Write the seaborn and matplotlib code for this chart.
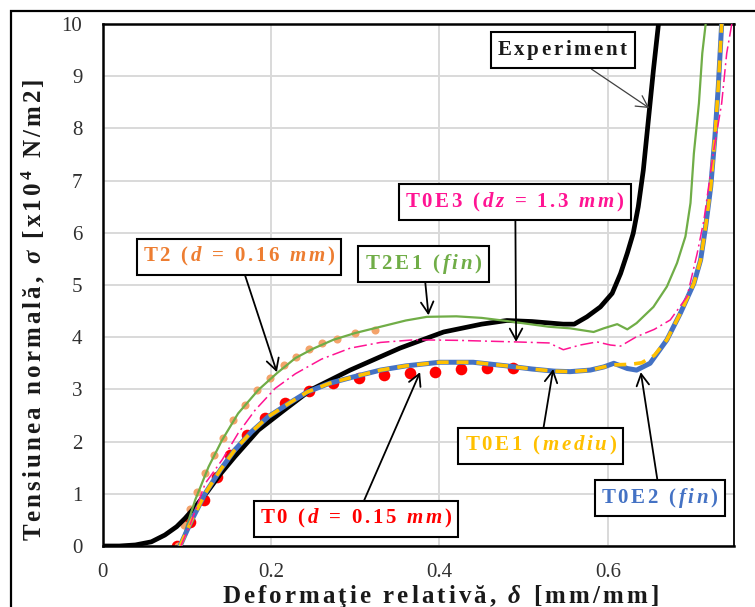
import matplotlib
matplotlib.use("Agg")
import matplotlib.pyplot as plt
import seaborn as sns
from matplotlib.patches import Rectangle

# ---------------- data: strain (mm/mm) vs normal stress (x10^4 N/m2) ----------------
exp_x = [0.0, 0.02, 0.039, 0.058, 0.074, 0.088, 0.098, 0.11, 0.125, 0.14, 0.157, 0.185,
         0.213, 0.247, 0.294, 0.353, 0.405, 0.45, 0.48, 0.51, 0.547, 0.56, 0.575, 0.591,
         0.605, 0.615, 0.623, 0.63, 0.636, 0.642, 0.648, 0.654, 0.66]
exp_y = [0.0, 0.0, 0.02, 0.08, 0.21, 0.37, 0.53, 0.75, 1.05, 1.38, 1.71, 2.22,
         2.57, 2.99, 3.37, 3.79, 4.1, 4.25, 4.32, 4.3, 4.25, 4.25, 4.39, 4.58,
         4.84, 5.22, 5.61, 5.99, 6.5, 7.2, 8.16, 9.12, 10.0]

t2_x = [0.09, 0.097, 0.104, 0.112, 0.122, 0.132, 0.143, 0.155, 0.169, 0.183, 0.199,
        0.215, 0.23, 0.245, 0.26, 0.278, 0.30, 0.324]
t2_y = [0.0, 0.4, 0.7, 1.04, 1.39, 1.74, 2.06, 2.41, 2.7, 2.99, 3.22,
        3.47, 3.62, 3.77, 3.89, 3.97, 4.08, 4.13]

t2e1_x = [0.093, 0.1, 0.11, 0.126, 0.142, 0.161, 0.185, 0.207, 0.229, 0.25, 0.274,
          0.30, 0.33, 0.36, 0.385, 0.42, 0.45, 0.48, 0.53, 0.555, 0.583, 0.595, 0.611,
          0.623, 0.634, 0.654, 0.67, 0.682, 0.692, 0.698, 0.702, 0.708, 0.712, 0.716]
t2e1_y = [0.0, 0.38, 0.88, 1.52, 2.03, 2.54, 2.99, 3.31, 3.6, 3.78, 3.95,
          4.08, 4.2, 4.32, 4.39, 4.4, 4.37, 4.31, 4.2, 4.17, 4.1, 4.17, 4.25,
          4.15, 4.27, 4.58, 4.97, 5.42, 5.93, 6.57, 7.52, 8.48, 9.44, 10.0]

t0e3_x = [0.093, 0.105, 0.122, 0.142, 0.161, 0.181, 0.205, 0.229, 0.26, 0.294, 0.33,
          0.37, 0.42, 0.49, 0.53, 0.547, 0.567, 0.587, 0.603, 0.615, 0.634, 0.655,
          0.674, 0.694, 0.706, 0.714, 0.725, 0.735, 0.741, 0.747]
t0e3_y = [0.0, 0.45, 1.2, 1.65, 2.16, 2.6, 3.02, 3.3, 3.58, 3.79, 3.9,
          3.95, 3.94, 3.91, 3.89, 3.76, 3.85, 3.91, 3.85, 3.83, 4.01, 4.15,
          4.33, 4.78, 5.61, 6.25, 7.52, 8.48, 9.44, 10.0]

t0_x = [0.088, 0.104, 0.12, 0.136, 0.151, 0.171, 0.193, 0.217, 0.245, 0.274, 0.304,
        0.334, 0.365, 0.395, 0.426, 0.457, 0.487]
t0_y = [0.0, 0.46, 0.88, 1.32, 1.74, 2.13, 2.45, 2.74, 2.97, 3.12, 3.22,
        3.28, 3.32, 3.34, 3.39, 3.41, 3.41]

t0e2_x = [0.092, 0.106, 0.122, 0.14, 0.157, 0.177, 0.197, 0.221, 0.243, 0.27, 0.298,
          0.33, 0.36, 0.40, 0.44, 0.48, 0.51, 0.536, 0.555, 0.579, 0.595, 0.607,
          0.623, 0.634, 0.65, 0.67, 0.686, 0.702, 0.71, 0.716, 0.722, 0.727, 0.731,
          0.735]
t0e2_y = [0.0, 0.5, 1.01, 1.46, 1.84, 2.19, 2.48, 2.73, 2.95, 3.12, 3.24,
          3.37, 3.45, 3.52, 3.52, 3.45, 3.39, 3.35, 3.34, 3.37, 3.43, 3.5,
          3.4, 3.37, 3.5, 3.95, 4.46, 5.03, 5.48, 6.12, 6.88, 7.84, 8.8,
          10.0]

t0e1_x = [0.092, 0.106, 0.122, 0.14, 0.157, 0.177, 0.197, 0.221, 0.243, 0.27, 0.298,
          0.33, 0.36, 0.40, 0.44, 0.48, 0.51, 0.536, 0.555, 0.579, 0.595, 0.607,
          0.627, 0.64, 0.655, 0.67, 0.686, 0.702, 0.71, 0.716, 0.722, 0.727, 0.731,
          0.735]
t0e1_y = [0.0, 0.5, 1.01, 1.46, 1.84, 2.19, 2.48, 2.73, 2.95, 3.12, 3.24,
          3.37, 3.45, 3.52, 3.52, 3.45, 3.39, 3.35, 3.34, 3.37, 3.43, 3.47,
          3.48, 3.51, 3.65, 3.95, 4.46, 5.03, 5.48, 6.12, 6.88, 7.84, 8.8,
          10.0]

x_ticks = [0.0, 0.2, 0.4, 0.6]
x_tick_labels = ["0", "0.2", "0.4", "0.6"]
y_ticks = list(range(0, 11))

# ---------------- colours ----------------
C_EXP = "#000000"
C_T2_DOT = "#F4A36B"
C_T2_TXT = "#ED7D31"
C_T2E1 = "#70AD47"
C_T0E3 = "#FF1493"
C_T0 = "#FF0000"
C_T0E1 = "#FFC000"
C_T0E2 = "#4472C4"

# ---------------- style ----------------
sns.set_theme(style="white")
plt.rcParams["font.family"] = ["Liberation Serif", "DejaVu Sans"]
plt.rcParams["mathtext.fontset"] = "custom"
plt.rcParams["mathtext.rm"] = "Liberation Serif"
plt.rcParams["mathtext.it"] = "Liberation Serif:italic"
plt.rcParams["mathtext.bf"] = "Liberation Serif:bold"
plt.rcParams["mathtext.bfit"] = "Liberation Serif:italic:bold"


def tracked(parts, gap=0.2):
    """Build a string with even letter spacing; parts are ('t', plain), ('i', bold italic)
    or ('m', raw mathtext) pieces."""
    items = []
    for kind, txt in parts:
        if kind == "m":
            items.append((True, txt))
        else:
            for ch in txt:
                if kind == "i":
                    items.append((True, r"\mathbfit{%s}" % (r"\ " if ch == " " else ch)))
                else:
                    items.append((False, ch))
    sp = r"\hspace{%g}" % gap
    out = ""
    for k, (is_math, c) in enumerate(items):
        pre = sp if k else ""
        if is_math:
            out += "$" + pre + c + "$"
        else:
            out += ("$" + pre + "$" if k else "") + c
    return out.replace("$$", "")


W, H = 755, 607
fig = plt.figure(figsize=(W / 100, H / 100), dpi=100)
ax = fig.add_axes([102.5 / W, 1 - 546 / H, (734.3 - 102.5) / W, (546 - 24) / H])

# outer frame of the figure
fig.patches.append(Rectangle((11 / W, -0.1), 1.2, 1 - 11 / H + 0.1, transform=fig.transFigure,
                             fill=False, edgecolor="black", linewidth=1.6, zorder=10))

# ---------------- series ----------------
line_kw = dict(sort=False, estimator=None, solid_joinstyle="round", solid_capstyle="round")
sns.scatterplot(x=t0_x, y=t0_y, ax=ax, color=C_T0, s=70, linewidth=0, zorder=2)
sns.scatterplot(x=t2_x, y=t2_y, ax=ax, color=C_T2_DOT, s=34, linewidth=0, zorder=2.1)
sns.lineplot(x=exp_x, y=exp_y, ax=ax, color=C_EXP, linewidth=3.4, zorder=3, **line_kw)
sns.lineplot(x=t2e1_x, y=t2e1_y, ax=ax, color=C_T2E1, linewidth=1.6, zorder=3.5, **line_kw)
sns.lineplot(x=t0e2_x, y=t0e2_y, ax=ax, color=C_T0E2, linewidth=3.6, zorder=4, **line_kw)
sns.lineplot(x=t0e1_x, y=t0e1_y, ax=ax, color=C_T0E1, linewidth=2.6, zorder=4.2, **line_kw)
ax.lines[-1].set_linestyle((0, (3.3, 2.2)))
ax.lines[-1].set_dash_capstyle("butt")
sns.lineplot(x=t0e3_x, y=t0e3_y, ax=ax, color=C_T0E3, linewidth=1.1, zorder=4.5, **line_kw)
ax.lines[-1].set_linestyle((0, (8.5, 2.6, 1.3, 2.6)))

# ---------------- axes ----------------
ax.set_xlim(0, 0.75)
ax.set_ylim(0, 10)
ax.set_xticks(x_ticks)
ax.set_xticklabels(x_tick_labels)
ax.set_yticks(y_ticks)
ax.set_yticklabels([str(v) for v in y_ticks])
ax.grid(True, color="#d9d9d9", linewidth=1.4, zorder=0.5)
ax.set_axisbelow(True)
for side in ["left", "bottom", "top", "right"]:
    ax.spines[side].set_color("black")
    ax.spines[side].set_visible(True)
ax.spines["left"].set_linewidth(1.8)
ax.spines["bottom"].set_linewidth(1.8)
ax.spines["top"].set_linewidth(1.8)
ax.spines["right"].set_linewidth(1.3)
ax.tick_params(axis="both", which="major", direction="inout", length=9, width=1.5,
               color="black", labelsize=15, labelcolor="#303030")
ax.tick_params(axis="y", pad=10)
ax.tick_params(axis="x", pad=8)
ax.set_xlabel("")
ax.set_ylabel("")

fig.text(440 / W, 1 - 603 / H,
         tracked([("t", "Deformaţie relativă, "), ("i", "δ"), ("t", " [mm/mm]")], 0.17),
         ha="center", va="baseline", fontsize=18, fontweight="bold", color="#1a1a1a")
fig.text(33 / W, 1 - 310 / H,
         tracked([("t", "Tensiunea normală, "), ("i", "σ"), ("t", " [x10"),
                  ("m", r"^{\mathbf{4}}"), ("t", " N/m2]")], 0.17),
         ha="center", va="center", rotation=90, fontsize=18, fontweight="bold",
         color="#1a1a1a")


# ---------------- callouts ----------------
def callout(parts, color, text_xy, target_xy, arrow_color="black", arrow_lw=1.3):
    ax.annotate(tracked(parts, 0.18), xy=target_xy, xytext=text_xy,
                textcoords="data", xycoords="data", ha="center", va="center",
                fontsize=15, fontweight="bold", color=color, annotation_clip=False,
                bbox=dict(boxstyle="square,pad=0.3", facecolor="white",
                          edgecolor="black", linewidth=1.5),
                arrowprops=dict(arrowstyle="->,head_length=0.55,head_width=0.3",
                                color=arrow_color, linewidth=arrow_lw,
                                shrinkA=0, shrinkB=0),
                zorder=6)


callout([("t", "Experiment")], "#1a1a1a", (0.547, 9.50), (0.649, 8.39),
        arrow_color="#404040", arrow_lw=0.9)
callout([("t", "T2 ("), ("i", "d"), ("t", " = 0.16 "), ("i", "mm"), ("t", ")")],
        C_T2_TXT, (0.162, 5.54), (0.207, 3.33))
callout([("t", "T2E1 ("), ("i", "fin"), ("t", ")")], C_T2E1, (0.381, 5.40), (0.387, 4.42))
callout([("t", "T0E3 ("), ("i", "dz"), ("t", " = 1.3 "), ("i", "mm"), ("t", ")")],
        C_T0E3, (0.490, 6.59), (0.491, 3.91))
callout([("t", "T0 ("), ("i", "d"), ("t", " = 0.15 "), ("i", "mm"), ("t", ")")],
        C_T0, (0.301, 0.52), (0.377, 3.33))
callout([("t", "T0E1 ("), ("i", "mediu"), ("t", ")")], C_T0E1, (0.520, 1.92), (0.535, 3.39))
callout([("t", "T0E2 ("), ("i", "fin"), ("t", ")")], C_T0E2, (0.662, 0.92), (0.639, 3.33))

fig.savefig("out.png", dpi=100)
